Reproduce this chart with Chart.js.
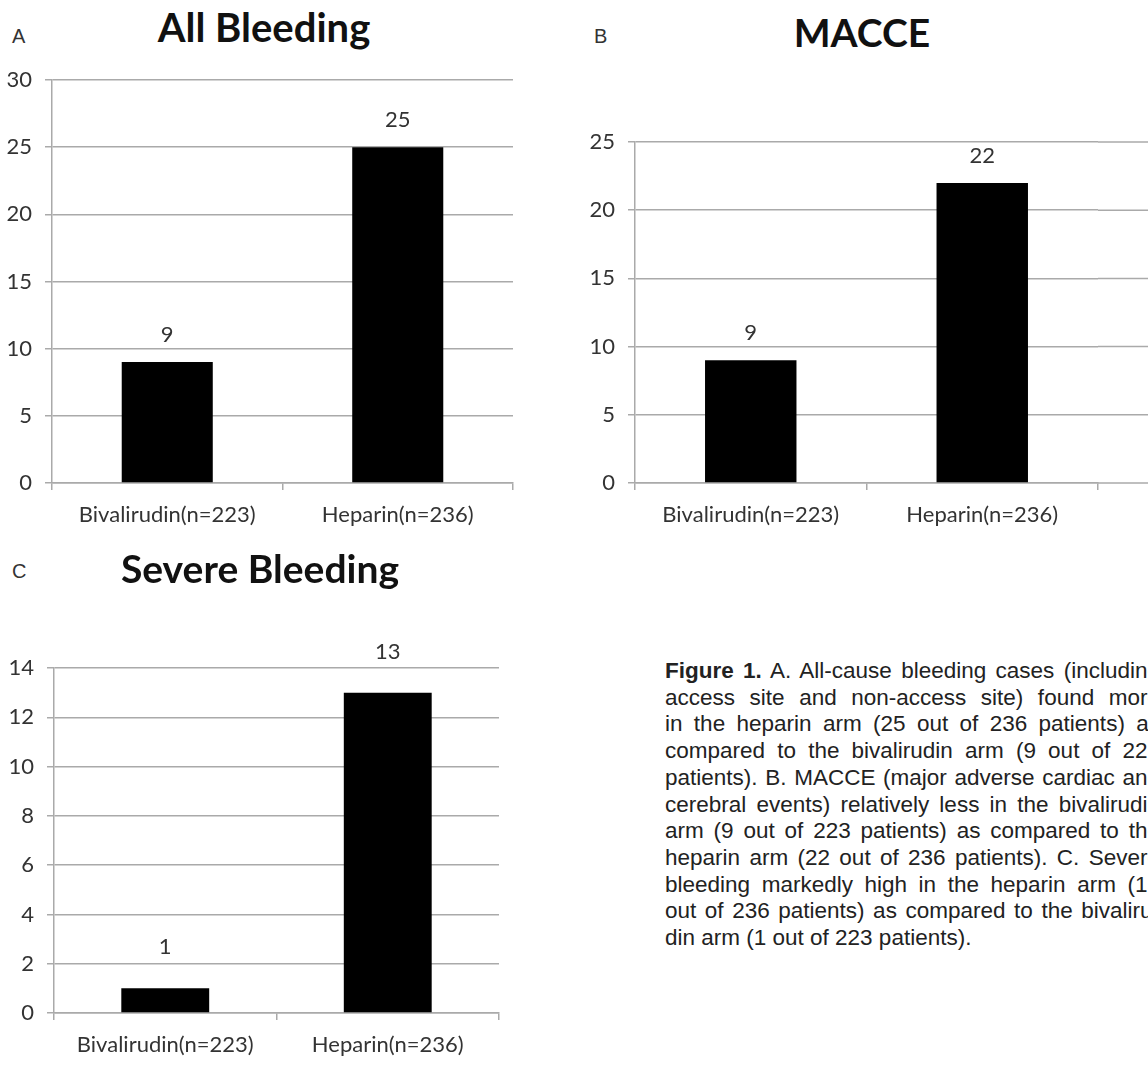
<!DOCTYPE html>
<html>
<head>
<meta charset="utf-8">
<script src="https://cdn.jsdelivr.net/npm/chart.js@4.4.1/dist/chart.umd.min.js"></script>
<style>
  body { margin: 0; width: 1148px; height: 1070px; overflow: hidden; background: #fff; position: relative; }
  .box { position: absolute; }
  .title { position: absolute; width: 600px; text-align: center; font: bold 40px Lato, sans-serif; line-height: 40px; color: #111; }
  .panel { position: absolute; font: 20px "Liberation Sans", Arial, sans-serif; line-height: 20px; color: #333; }
  .caption { position: absolute; left: 665px; top: 658px; width: 495px; font: 22.5px "Liberation Sans", Arial, sans-serif; line-height: 26.7px; color: #222; }
  .caption div { text-align: justify; text-align-last: justify; }
  .caption div.last { text-align-last: left; }
</style>
</head>
<body>

<div class="panel" style="left:12px; top:26px;">A</div>
<div class="title" style="left:-36px; top:7px;">All Bleeding</div>
<div class="box" style="left:0; top:0; width:545px; height:560px;"><canvas id="chartA"></canvas></div>

<div class="panel" style="left:594px; top:26px;">B</div>
<div class="title" style="left:562px; top:12px; font-size:39px;">MACCE</div>
<div class="box" style="left:570px; top:0; width:578px; height:560px;"><canvas id="chartB"></canvas></div>

<div class="panel" style="left:12px; top:561px;">C</div>
<div class="title" style="left:-40px; top:548px; font-size:39px;">Severe Bleeding</div>
<div class="box" style="left:0; top:540px; width:540px; height:530px;"><canvas id="chartC"></canvas></div>

<div class="caption">
  <div><b>Figure 1.</b> A. All-cause bleeding cases (including</div>
  <div>access site and non-access site) found more</div>
  <div>in the heparin arm (25 out of 236 patients) as</div>
  <div>compared to the bivalirudin arm (9 out of 223</div>
  <div>patients). B. MACCE (major adverse cardiac and</div>
  <div>cerebral events) relatively less in the bivalirudin</div>
  <div>arm (9 out of 223 patients) as compared to the</div>
  <div>heparin arm (22 out of 236 patients). C. Severe</div>
  <div>bleeding markedly high in the heparin arm (13</div>
  <div>out of 236 patients) as compared to the bivaliru-</div>
  <div class="last">din arm (1 out of 223 patients).</div>
</div>

<script>
// data
const groups = ['Bivalirudin(n=223)', 'Heparin(n=236)'];
const allBleeding = [9, 25];
const macce = [9, 22];
const severeBleeding = [1, 13];

const gridColor = '#aaaaaa';
const textColor = '#333333';

// numbers above the bars
const valueLabels = {
    id: 'valueLabels',
    afterDatasetsDraw(chart, args, opts) {
        const ctx = chart.ctx;
        const meta = chart.getDatasetMeta(0);
        ctx.save();
        ctx.font = '22px Lato';
        ctx.fillStyle = textColor;
        ctx.textAlign = 'center';
        ctx.textBaseline = 'middle';
        meta.data.forEach((bar, i) => {
            ctx.fillText(chart.data.datasets[0].data[i], bar.x, bar.y - opts.gap);
        });
        ctx.restore();
    }
};

// panel B: gridlines run on to the edge of the picture
const gridToEdge = {
    id: 'gridToEdge',
    beforeDatasetsDraw(chart, args, opts) {
        if (!opts.on) return;
        const ctx = chart.ctx;
        const yScale = chart.scales.y;
        const right = chart.chartArea.right;
        ctx.save();
        ctx.strokeStyle = gridColor;
        ctx.lineWidth = 1.5;
        yScale.ticks.forEach((t) => {
            const py = yScale.getPixelForValue(t.value);
            ctx.beginPath();
            ctx.moveTo(right, py);
            ctx.lineTo(chart.width, py);
            ctx.stroke();
        });
        ctx.restore();
    }
};

function makeChart(id, values, o) {
    const ctx = document.getElementById(id).getContext('2d');
    return new Chart(ctx, {
        type: 'bar',
        data: {
            labels: groups,
            datasets: [{
                data: values,
                backgroundColor: '#000',
                borderWidth: 0,
                categoryPercentage: 1,
                barPercentage: 0.395,
            }],
        },
        options: {
            responsive: true,
            maintainAspectRatio: false,
            animation: false,
            layout: { padding: { top: o.top, right: o.right, left: 0, bottom: 0 } },
            plugins: {
                legend: { display: false },
                tooltip: { enabled: false },
                valueLabels: { gap: o.gap },
                gridToEdge: { on: !!o.extend },
            },
            scales: {
                x: {
                    grid: { offset: true, drawOnChartArea: false, tickLength: 7, color: gridColor, lineWidth: 1.5 },
                    border: { color: gridColor, width: 1.5 },
                    ticks: { color: textColor, font: { family: 'Lato', size: 22 }, padding: 12, maxRotation: 0 },
                    afterFit: (axis) => { axis.height = o.xHeight; },
                },
                y: {
                    min: 0,
                    max: o.max,
                    grid: { color: gridColor, lineWidth: 1.5, tickLength: 7 },
                    border: { color: gridColor, width: 1.5 },
                    ticks: { stepSize: o.step, color: textColor, font: { family: 'Lato', size: 22 }, padding: 13 },
                    afterFit: (axis) => { axis.width = o.yWidth; },
                },
            },
        },
        plugins: [valueLabels, gridToEdge],
    });
}

makeChart('chartA', allBleeding, { max: 30, step: 5, top: 80, right: 32, yWidth: 52, xHeight: 77, gap: 27 });
makeChart('chartB', macce, { max: 25, step: 5, top: 142, right: 50, yWidth: 65, xHeight: 77, gap: 27, extend: true });
makeChart('chartC', severeBleeding, { max: 14, step: 2, top: 128, right: 41, yWidth: 54, xHeight: 57, gap: 41 });
</script>
</body>
</html>
